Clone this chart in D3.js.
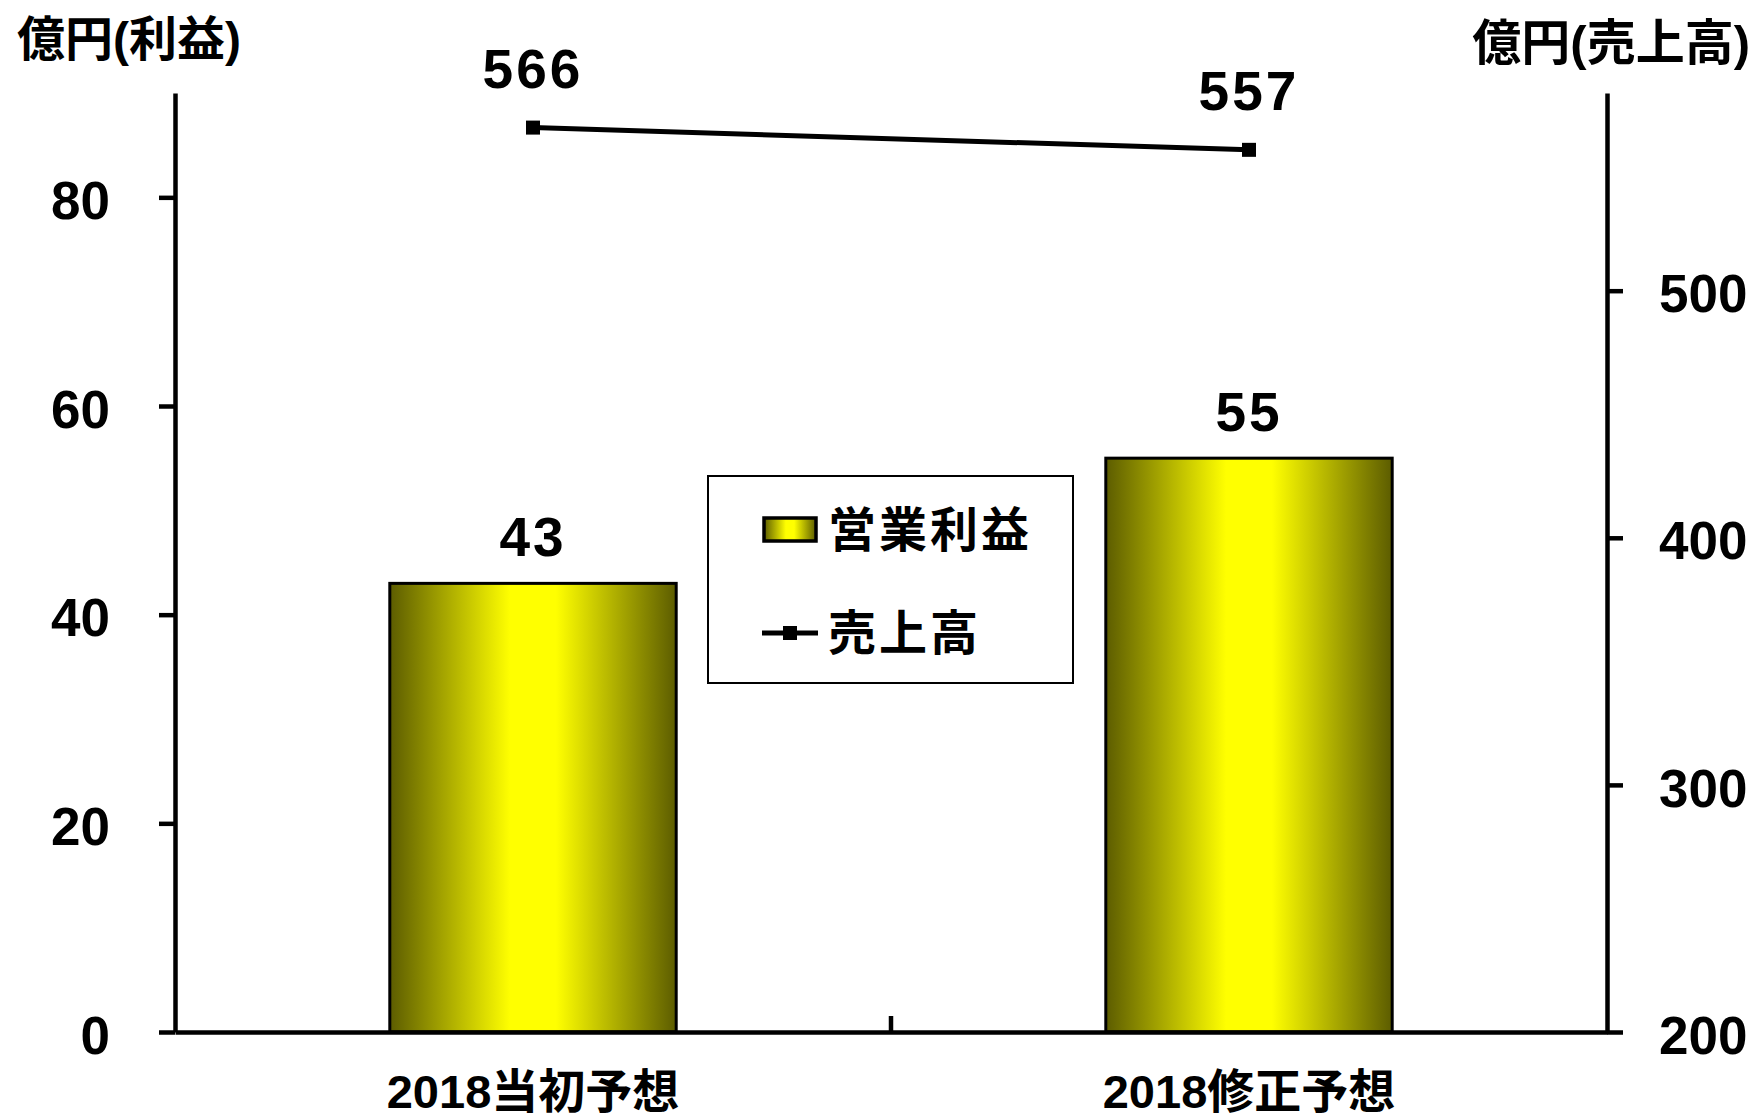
<!DOCTYPE html>
<html>
<head>
<meta charset="utf-8">
<script src="https://cdn.jsdelivr.net/npm/d3@7"></script>
<style>
  body { margin: 0; background: #fff; }
  text { font-family: "Liberation Sans", "Noto Sans CJK JP", sans-serif; font-weight: bold; fill: #000; }
</style>
</head>
<body>
<svg id="chart" width="1756" height="1120"></svg>
<script>
// ---- data ----
const categories = ["2018当初予想", "2018修正予想"];
const profitValues = [43, 55];       // 営業利益 (left axis, 億円)
const salesValues = [566, 557];      // 売上高 (right axis, 億円)
const leftTicks = [0, 20, 40, 60, 80];
const rightTicks = [200, 300, 400, 500];
const leftDomain = [0, 90];
const rightDomain = [200, 580];
const seriesNames = ["営業利益", "売上高"];
const leftTitle = "億円(利益)";
const rightTitle = "億円(売上高)";

// ---- layout ----
const svg = d3.select("#chart");
const L = 175, R = 1607, T = 93, B = 1032;

const x = d3.scaleBand().domain(categories).range([L, R]).paddingInner(0.6).paddingOuter(0.3);
const yL = d3.scaleLinear().domain(leftDomain).range([B, T]);
const yR = d3.scaleLinear().domain(rightDomain).range([B, T]);

// gradient
const defs = svg.append("defs");
const grad = defs.append("linearGradient").attr("id", "barGrad")
  .attr("x1", "0%").attr("x2", "100%").attr("y1", "0%").attr("y2", "0%");
[[0, "#5c5c00"], [0.42, "#ffff00"], [0.58, "#ffff00"], [1, "#5c5c00"]].forEach(([o, c]) =>
  grad.append("stop").attr("offset", o).attr("stop-color", c));

// bars
svg.append("g").selectAll("rect").data(profitValues).join("rect")
  .attr("x", (d, i) => x(categories[i]))
  .attr("y", d => yL(d))
  .attr("width", x.bandwidth())
  .attr("height", d => yL(0) - yL(d))
  .attr("fill", "url(#barGrad)")
  .attr("stroke", "#000").attr("stroke-width", 3);

// bar labels
svg.append("g").selectAll("text").data(profitValues).join("text")
  .attr("x", (d, i) => x(categories[i]) + x.bandwidth() / 2)
  .attr("y", d => yL(d) - 27)
  .attr("text-anchor", "middle")
  .attr("font-size", 55)
  .attr("letter-spacing", 3)
  .text(d => d);

// left axis
const axL = svg.append("g").attr("transform", `translate(${L},0)`)
  .call(d3.axisLeft(yL).tickValues(leftTicks).tickSize(16).tickSizeOuter(0).tickPadding(49));
axL.select(".domain").attr("stroke-width", 4.5);
axL.selectAll(".tick line").attr("stroke-width", 4.5);
axL.selectAll(".tick text").attr("font-size", 53).attr("dy", "0.4em")
  .attr("font-family", "'Liberation Sans', sans-serif");

// right axis
const axR = svg.append("g").attr("transform", `translate(${R},0)`)
  .call(d3.axisRight(yR).tickValues(rightTicks).tickSize(16).tickSizeOuter(0).tickPadding(36));
axR.select(".domain").attr("stroke-width", 4.5);
axR.selectAll(".tick line").attr("stroke-width", 4.5);
axR.selectAll(".tick text").attr("font-size", 53).attr("dy", "0.4em")
  .attr("font-family", "'Liberation Sans', sans-serif");

// bottom axis
const axB = svg.append("g").attr("transform", `translate(0,${B})`)
  .call(d3.axisBottom(x).tickSize(0).tickSizeOuter(0).tickPadding(0));
axB.select(".domain").attr("stroke-width", 4.5);
axB.selectAll(".tick text").attr("font-size", 47).attr("dy", 0).attr("y", 76);
// category divider tick
const divX = x(categories[0]) + x.bandwidth() + (x.step() - x.bandwidth()) / 2;
svg.append("line").attr("x1", divX).attr("x2", divX).attr("y1", B).attr("y2", B - 16)
  .attr("stroke", "#000").attr("stroke-width", 4.5);

// sales line
const line = d3.line().x((d, i) => x(categories[i]) + x.bandwidth() / 2).y(d => yR(d));
svg.append("path").datum(salesValues).attr("d", line)
  .attr("fill", "none").attr("stroke", "#000").attr("stroke-width", 5);
svg.append("g").selectAll("rect").data(salesValues).join("rect")
  .attr("x", (d, i) => x(categories[i]) + x.bandwidth() / 2 - 7)
  .attr("y", d => yR(d) - 7)
  .attr("width", 14).attr("height", 14).attr("fill", "#000");
svg.append("g").selectAll("text").data(salesValues).join("text")
  .attr("x", (d, i) => x(categories[i]) + x.bandwidth() / 2)
  .attr("y", d => yR(d) - 40)
  .attr("text-anchor", "middle")
  .attr("font-size", 55)
  .attr("letter-spacing", 3)
  .text(d => d);

// axis titles
svg.append("text").attr("x", 17).attr("y", 56).attr("font-size", 48).text(leftTitle);
svg.append("text").attr("x", 1750).attr("y", 60).attr("text-anchor", "end").attr("font-size", 49).text(rightTitle);

// legend
const lg = svg.append("g");
lg.append("rect").attr("x", 708).attr("y", 476).attr("width", 365).attr("height", 207)
  .attr("fill", "#fff").attr("stroke", "#000").attr("stroke-width", 2);
lg.append("rect").attr("x", 764).attr("y", 518).attr("width", 52).attr("height", 23)
  .attr("fill", "url(#barGrad)").attr("stroke", "#000").attr("stroke-width", 3.5);
lg.append("text").attr("x", 828).attr("y", 547).attr("font-size", 48).attr("letter-spacing", 3).text(seriesNames[0]);
lg.append("line").attr("x1", 762).attr("x2", 818).attr("y1", 633).attr("y2", 633)
  .attr("stroke", "#000").attr("stroke-width", 5);
lg.append("rect").attr("x", 783).attr("y", 626).attr("width", 14).attr("height", 14).attr("fill", "#000");
lg.append("text").attr("x", 828).attr("y", 650).attr("font-size", 48).attr("letter-spacing", 3).text(seriesNames[1]);
</script>
</body>
</html>
